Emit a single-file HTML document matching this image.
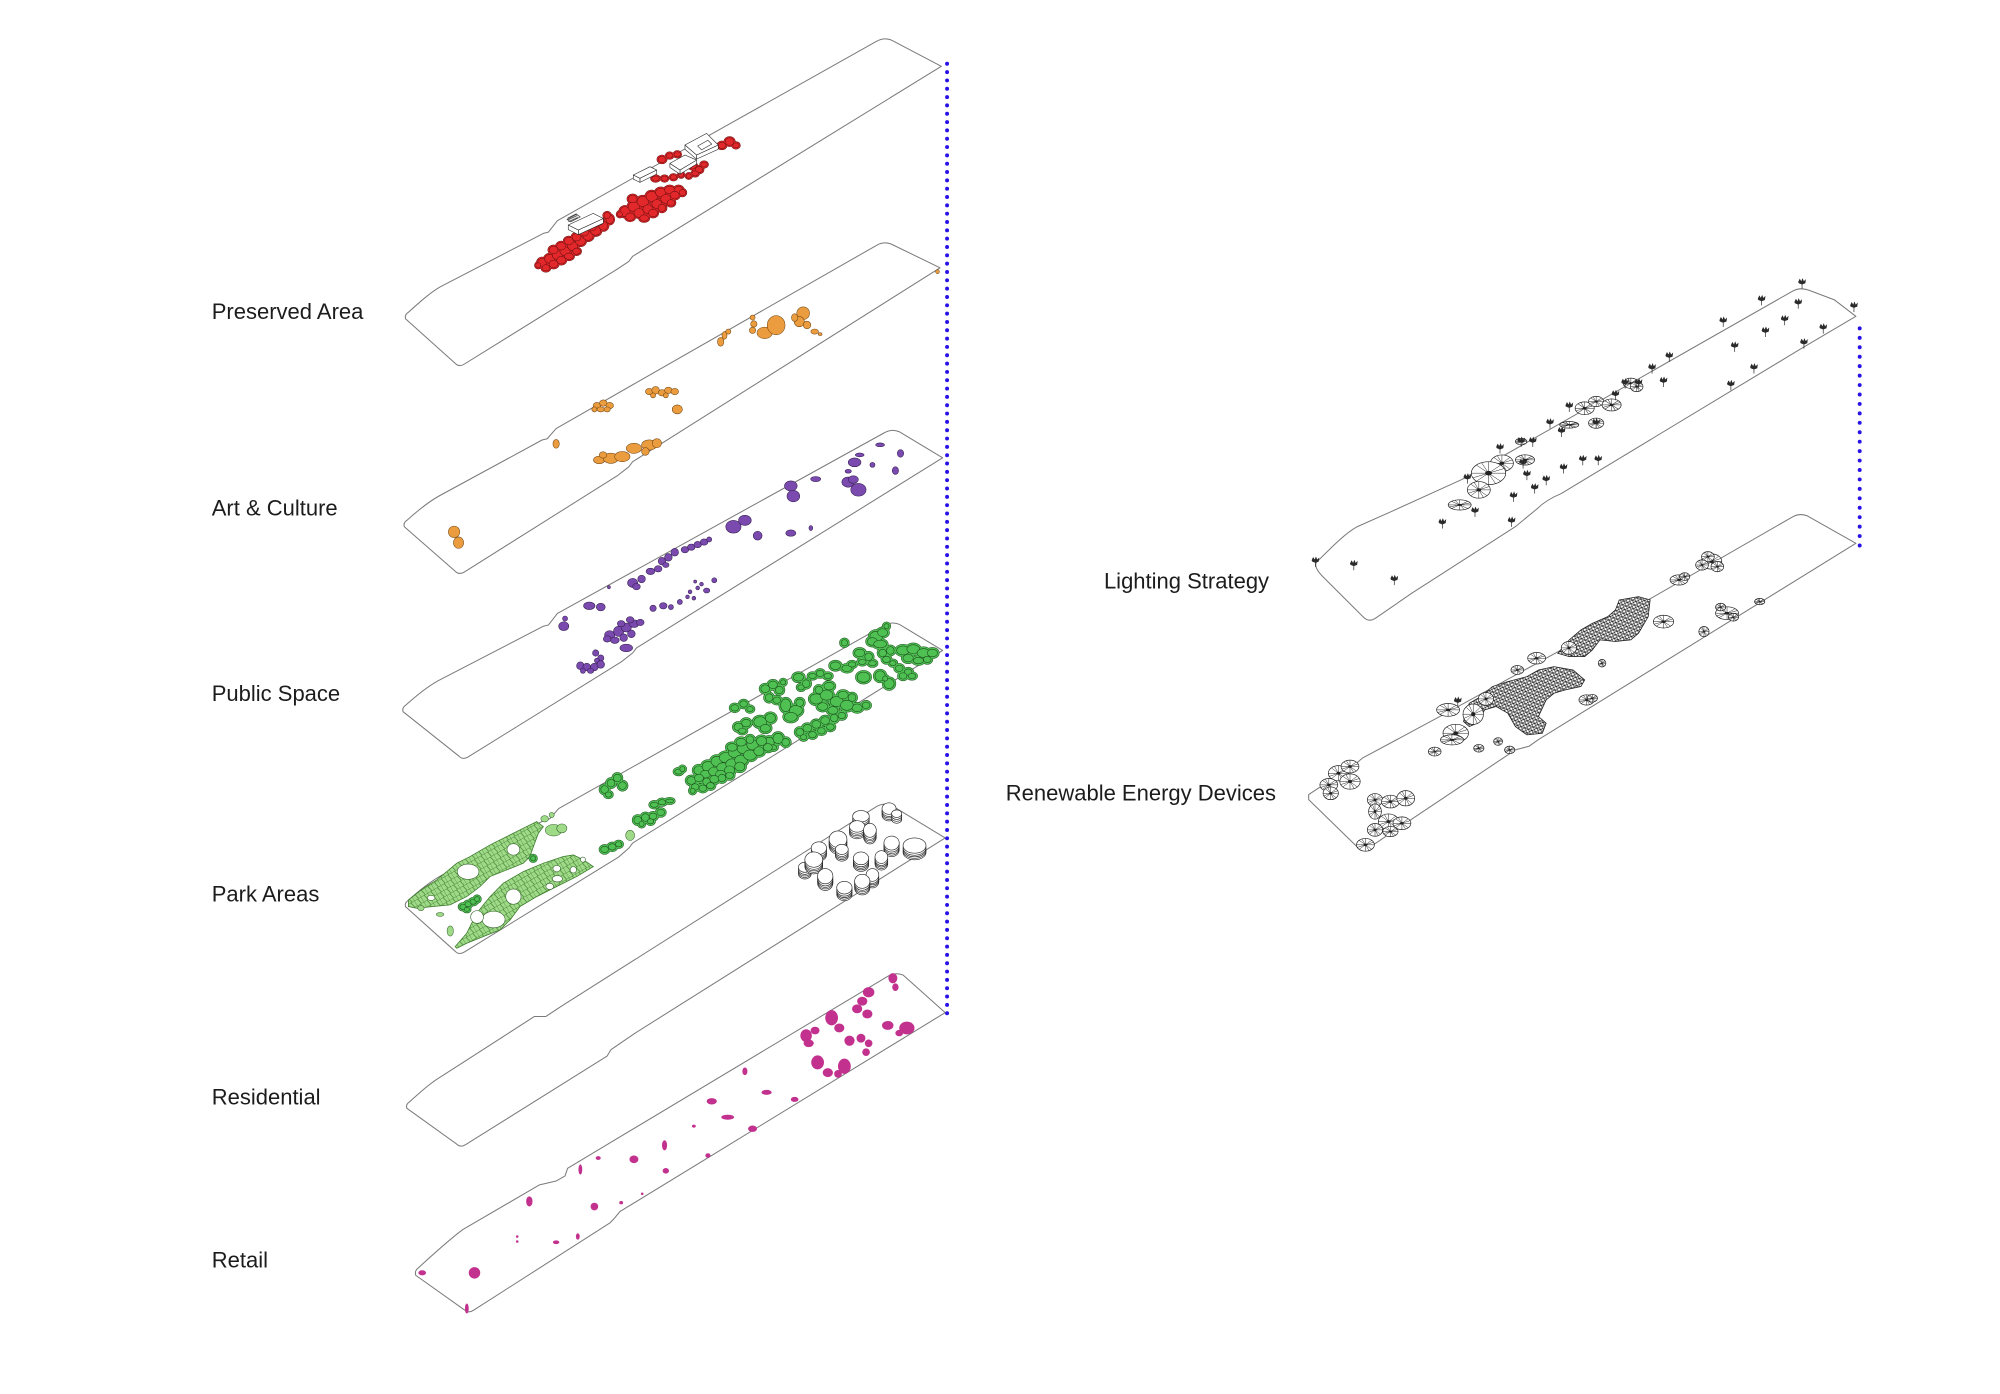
<!DOCTYPE html>
<html><head><meta charset="utf-8"><style>
html,body{margin:0;padding:0;background:#fff;width:2000px;height:1394px;overflow:hidden}
svg{display:block}
text{font-family:"Liberation Sans",Arial,sans-serif;font-size:17.25px;fill:#1c1c1c}
</style></head><body>
<svg width="2000" height="1394" viewBox="0 0 1568 1093" preserveAspectRatio="none" xmlns="http://www.w3.org/2000/svg">
<defs>
<g id="tree"><path d="M-3,-1 L-1.8,-3.6 L-0.6,-1.6 L0.4,-4 L1.4,-1.6 L3,-3.2 L2.6,0 L0,1 L-2.6,0 Z" fill="#2a2a2a"/><path d="M0,0 V4.2" stroke="#2a2a2a" stroke-width="0.55"/></g>
<g id="pad"><ellipse rx="10" ry="10" fill="#fff" stroke="#222" stroke-width="0.7" vector-effect="non-scaling-stroke"/><path d="M0,0L10,0M0,0L7,7M0,0L0,10M0,0L-7,7M0,0L-10,0M0,0L-7,-7M0,0L0,-10M0,0L7,-7M0,0L9,-4M0,0L-9,4M0,0L4,9M0,0L-4,-9" stroke="#222" stroke-width="0.5" vector-effect="non-scaling-stroke" fill="none"/><ellipse rx="2" ry="2" fill="#222"/></g>
<pattern id="mesh" patternUnits="userSpaceOnUse" width="3" height="3" patternTransform="rotate(20)"><rect width="3" height="3" fill="#fff"/><path d="M0,0L3,3M3,0L0,3M0,1.5H3" stroke="#111" stroke-width="0.42"/></pattern>
<pattern id="net" patternUnits="userSpaceOnUse" width="6" height="4.5" patternTransform="rotate(-30)"><path d="M0,0H6M0,0V4.5M3,0L4,4.5" stroke="#3b7a2b" stroke-width="0.5" fill="none"/></pattern>

<g id="rb">
<ellipse cx="425" cy="206" rx="3.5" ry="3.5"/><ellipse cx="431" cy="203" rx="4" ry="3.5"/><ellipse cx="437" cy="200" rx="4" ry="3.5"/><ellipse cx="443" cy="197" rx="4" ry="3.5"/><ellipse cx="449" cy="193" rx="4" ry="3.5"/><ellipse cx="455" cy="189" rx="4" ry="3.5"/><ellipse cx="461" cy="185" rx="4" ry="3.5"/><ellipse cx="467" cy="181" rx="4" ry="3.5"/><ellipse cx="473" cy="177" rx="3.5" ry="3.5"/><ellipse cx="478" cy="172" rx="3" ry="3.5"/>
<ellipse cx="434" cy="196" rx="3.5" ry="3"/><ellipse cx="440" cy="193" rx="3.5" ry="3"/><ellipse cx="446" cy="189" rx="3.5" ry="3"/><ellipse cx="452" cy="186" rx="3.5" ry="3"/><ellipse cx="458" cy="182" rx="3.5" ry="3"/><ellipse cx="464" cy="178" rx="3.5" ry="3"/><ellipse cx="470" cy="174" rx="3" ry="2.5"/><ellipse cx="476" cy="169" rx="2.5" ry="2.5"/>
<ellipse cx="428" cy="210" rx="3" ry="2.5"/><ellipse cx="434" cy="207" rx="3.5" ry="3"/><ellipse cx="440" cy="204" rx="3.5" ry="3"/><ellipse cx="446" cy="201" rx="3.5" ry="2.5"/><ellipse cx="452" cy="197" rx="3" ry="2.5"/><ellipse cx="422" cy="208" rx="2" ry="2"/>
<ellipse cx="490" cy="166" rx="4" ry="4"/><ellipse cx="497" cy="162" rx="4.5" ry="4"/><ellipse cx="504" cy="158" rx="4.5" ry="4"/><ellipse cx="511" cy="154" rx="4.5" ry="4"/><ellipse cx="518" cy="151" rx="4" ry="3.5"/><ellipse cx="525" cy="149" rx="4" ry="3"/><ellipse cx="532" cy="149" rx="3.5" ry="3"/><ellipse cx="496" cy="156" rx="3.5" ry="3"/>
<ellipse cx="494" cy="170" rx="3.5" ry="3"/><ellipse cx="501" cy="167" rx="4" ry="3.5"/><ellipse cx="508" cy="164" rx="4" ry="3.5"/><ellipse cx="515" cy="160" rx="4" ry="3.5"/><ellipse cx="522" cy="156" rx="4" ry="3.5"/><ellipse cx="529" cy="153" rx="3.5" ry="3"/><ellipse cx="535" cy="151" rx="2.5" ry="2.5"/><ellipse cx="486" cy="168" rx="2" ry="2"/>
<ellipse cx="505" cy="171" rx="3.5" ry="2.5"/><ellipse cx="512" cy="167" rx="3.5" ry="3"/><ellipse cx="519" cy="163" rx="3" ry="3"/><ellipse cx="526" cy="159" rx="3" ry="2.5"/>
<ellipse cx="519" cy="125" rx="3" ry="2.5"/><ellipse cx="525" cy="122" rx="2.5" ry="2"/><ellipse cx="531" cy="121" rx="2.5" ry="2"/><ellipse cx="543" cy="130" rx="3" ry="2.5"/><ellipse cx="548" cy="133" rx="3" ry="2.5"/><ellipse cx="552" cy="129" rx="2.5" ry="2"/><ellipse cx="514" cy="140" rx="3" ry="2"/><ellipse cx="521" cy="140" rx="2.5" ry="2"/><ellipse cx="528" cy="139" rx="2.5" ry="2"/><ellipse cx="534" cy="137" rx="2" ry="2"/><ellipse cx="545" cy="136" rx="2.5" ry="2"/><ellipse cx="566" cy="114" rx="3" ry="2.5"/><ellipse cx="572" cy="111" rx="3.5" ry="3"/><ellipse cx="577" cy="114" rx="2.5" ry="2"/><ellipse cx="540" cy="138" rx="2" ry="1.8"/>
</g>

<g id="gb">
<ellipse cx="363" cy="711" rx="2.5" ry="2"/><ellipse cx="367" cy="709" rx="2.5" ry="2"/><ellipse cx="371" cy="707" rx="2.5" ry="2"/><ellipse cx="374" cy="705" rx="2" ry="2"/><ellipse cx="366" cy="713" rx="2" ry="1.5"/><ellipse cx="418" cy="673" rx="2" ry="2"/>
<ellipse cx="687" cy="499" rx="5" ry="4"/><ellipse cx="692" cy="496" rx="4" ry="3"/><ellipse cx="684" cy="503" rx="4" ry="3"/><ellipse cx="695" cy="491" rx="2" ry="2"/><ellipse cx="690" cy="505" rx="5" ry="3"/>
<ellipse cx="708" cy="510" rx="5" ry="3.5"/><ellipse cx="716" cy="509" rx="5" ry="3.5"/><ellipse cx="724" cy="512" rx="5" ry="3.5"/><ellipse cx="731" cy="512" rx="4" ry="3"/><ellipse cx="712" cy="516" rx="4" ry="3"/><ellipse cx="720" cy="518" rx="4" ry="2.5"/><ellipse cx="727" cy="517" rx="3" ry="2.5"/>
<ellipse cx="692" cy="512" rx="3" ry="3"/><ellipse cx="698" cy="510" rx="3" ry="3"/><ellipse cx="695" cy="517" rx="3" ry="2.5"/><ellipse cx="700" cy="520" rx="2.5" ry="2"/>
<ellipse cx="674" cy="512" rx="4" ry="3"/><ellipse cx="681" cy="515" rx="3" ry="3"/><ellipse cx="676" cy="519" rx="3" ry="2"/><ellipse cx="684" cy="520" rx="3" ry="2"/>
<ellipse cx="655" cy="522" rx="4" ry="3"/><ellipse cx="664" cy="524" rx="4" ry="2.5"/><ellipse cx="668" cy="521" rx="3" ry="2"/><ellipse cx="662" cy="504" rx="2.5" ry="2.5"/>
<ellipse cx="677" cy="531" rx="5" ry="4"/><ellipse cx="690" cy="530" rx="4" ry="4"/><ellipse cx="697" cy="536" rx="4" ry="4"/><ellipse cx="694" cy="532" rx="2" ry="2"/>
<ellipse cx="705" cy="524" rx="3" ry="2.5"/><ellipse cx="712" cy="527" rx="3" ry="2.5"/><ellipse cx="708" cy="530" rx="3" ry="2.5"/><ellipse cx="715" cy="530" rx="3" ry="2"/>
<ellipse cx="626" cy="531" rx="4" ry="3"/><ellipse cx="632" cy="536" rx="3" ry="3"/><ellipse cx="628" cy="539" rx="2.5" ry="2"/>
<ellipse cx="637" cy="530" rx="3" ry="2"/><ellipse cx="643" cy="528" rx="3" ry="2.5"/><ellipse cx="649" cy="530" rx="3" ry="2"/>
<ellipse cx="640" cy="548" rx="5" ry="4"/><ellipse cx="648" cy="545" rx="5" ry="4"/><ellipse cx="656" cy="550" rx="5" ry="4"/><ellipse cx="664" cy="553" rx="5" ry="4"/><ellipse cx="672" cy="555" rx="4" ry="3"/><ellipse cx="645" cy="554" rx="4" ry="3"/><ellipse cx="653" cy="557" rx="4" ry="3"/><ellipse cx="661" cy="545" rx="4" ry="3"/><ellipse cx="650" cy="538" rx="4" ry="3"/><ellipse cx="642" cy="541" rx="3" ry="3"/><ellipse cx="679" cy="553" rx="3" ry="2.5"/><ellipse cx="668" cy="547" rx="3" ry="3"/>
<ellipse cx="600" cy="540" rx="3.5" ry="3"/><ellipse cx="606" cy="537" rx="3.5" ry="3"/><ellipse cx="611" cy="541" rx="3" ry="3"/><ellipse cx="603" cy="547" rx="3" ry="3"/><ellipse cx="609" cy="549" rx="3" ry="2.5"/><ellipse cx="614" cy="535" rx="2" ry="2"/>
<ellipse cx="616" cy="553" rx="4" ry="5"/><ellipse cx="624" cy="557" rx="5" ry="4"/><ellipse cx="620" cy="562" rx="5" ry="3.5"/><ellipse cx="627" cy="551" rx="3" ry="3"/>
<ellipse cx="596" cy="566" rx="5" ry="4"/><ellipse cx="604" cy="563" rx="4" ry="3.5"/><ellipse cx="600" cy="571" rx="4" ry="3"/>
<ellipse cx="576" cy="555" rx="3" ry="2.5"/><ellipse cx="583" cy="552" rx="3" ry="2.5"/><ellipse cx="588" cy="556" rx="2.5" ry="2"/>
<ellipse cx="579" cy="570" rx="3.5" ry="3"/><ellipse cx="585" cy="567" rx="3.5" ry="3"/><ellipse cx="582" cy="573" rx="3" ry="2"/>
<ellipse cx="627" cy="574" rx="3" ry="3"/><ellipse cx="633" cy="571" rx="3.5" ry="3"/><ellipse cx="640" cy="568" rx="3.5" ry="3"/><ellipse cx="647" cy="565" rx="3.5" ry="3"/><ellipse cx="654" cy="563" rx="3" ry="3"/><ellipse cx="660" cy="561" rx="3" ry="2.5"/><ellipse cx="630" cy="578" rx="2.5" ry="2"/><ellipse cx="637" cy="576" rx="3" ry="2.5"/><ellipse cx="644" cy="573" rx="3" ry="2.5"/><ellipse cx="651" cy="570" rx="3" ry="2.5"/>
<ellipse cx="603" cy="582" rx="4" ry="4"/><ellipse cx="610" cy="579" rx="4" ry="4"/><ellipse cx="616" cy="582" rx="3" ry="3"/><ellipse cx="606" cy="586" rx="3" ry="2"/>
<ellipse cx="548" cy="604" rx="4" ry="3.5"/><ellipse cx="555" cy="601" rx="4.5" ry="4"/><ellipse cx="562" cy="597" rx="4.5" ry="4"/><ellipse cx="569" cy="594" rx="5" ry="4"/><ellipse cx="576" cy="590" rx="5" ry="4"/><ellipse cx="583" cy="587" rx="5" ry="4"/><ellipse cx="590" cy="584" rx="4.5" ry="4"/><ellipse cx="597" cy="581" rx="4" ry="3.5"/>
<ellipse cx="553" cy="607" rx="4" ry="3"/><ellipse cx="560" cy="605" rx="4.5" ry="3.5"/><ellipse cx="567" cy="602" rx="5" ry="4"/><ellipse cx="574" cy="599" rx="5" ry="4"/><ellipse cx="581" cy="596" rx="5" ry="4"/><ellipse cx="588" cy="592" rx="5" ry="4"/><ellipse cx="595" cy="589" rx="4" ry="3.5"/><ellipse cx="602" cy="586" rx="3.5" ry="3"/>
<ellipse cx="574" cy="586" rx="4" ry="3"/><ellipse cx="581" cy="582" rx="4" ry="3"/><ellipse cx="588" cy="580" rx="3" ry="3"/>
<ellipse cx="565" cy="607" rx="4" ry="3"/><ellipse cx="572" cy="604" rx="4" ry="3.5"/><ellipse cx="580" cy="601" rx="4" ry="3.5"/>
<ellipse cx="542" cy="612" rx="3.5" ry="3"/><ellipse cx="548" cy="610" rx="3.5" ry="3"/><ellipse cx="554" cy="613" rx="3" ry="3"/><ellipse cx="560" cy="611" rx="3.5" ry="3"/><ellipse cx="566" cy="610" rx="3" ry="3"/><ellipse cx="572" cy="608" rx="3" ry="2.5"/><ellipse cx="545" cy="617" rx="3" ry="2.5"/><ellipse cx="551" cy="618" rx="3" ry="2.5"/><ellipse cx="557" cy="616" rx="3" ry="2.5"/><ellipse cx="543" cy="620" rx="2" ry="2"/>
<ellipse cx="532" cy="605" rx="3" ry="2"/><ellipse cx="535" cy="603" rx="2" ry="2"/>
<ellipse cx="513" cy="631" rx="3" ry="2"/><ellipse cx="519" cy="629" rx="3" ry="2"/><ellipse cx="525" cy="628" rx="3" ry="1.5"/>
<ellipse cx="500" cy="643" rx="3" ry="3"/><ellipse cx="506" cy="641" rx="3" ry="3"/><ellipse cx="512" cy="640" rx="3" ry="2.5"/><ellipse cx="518" cy="637" rx="3" ry="2.5"/><ellipse cx="503" cy="646" rx="2" ry="2"/><ellipse cx="510" cy="644" rx="2.5" ry="2"/>
<ellipse cx="474" cy="619" rx="3" ry="3"/><ellipse cx="479" cy="614" rx="3" ry="3"/><ellipse cx="484" cy="610" rx="3" ry="3"/><ellipse cx="488" cy="616" rx="3" ry="3"/><ellipse cx="477" cy="623" rx="2.5" ry="2"/>
<ellipse cx="474" cy="666" rx="3" ry="2.5"/><ellipse cx="480" cy="664" rx="3" ry="2.5"/><ellipse cx="485" cy="662" rx="2.5" ry="2"/>
</g>
</defs>

<!-- labels -->
<text x="166" y="250.3">Preserved Area</text>
<text x="166" y="404.3">Art &amp; Culture</text>
<text x="166" y="549.5">Public Space</text>
<text x="166" y="707">Park Areas</text>
<text x="166" y="866">Residential</text>
<text x="166" y="994">Retail</text>
<text x="865.5" y="461.3">Lighting Strategy</text>
<text x="788.5" y="627.5">Renewable Energy Devices</text>

<!-- slab outlines -->
<g fill="none" stroke="#7a7a7a" stroke-width="0.8" stroke-linejoin="round">
<path d="M320,245 C330,236 338,229 345,225 L426,183 L430,182 L437,173 L687,32.5 Q693,29 699,31.5 L738,52 L496,201 L493,205 L484,211 L364,285.5 Q360,288 357,285 L318,250 Q317,247 320,245 Z"/>
<path d="M319,408 C329,399 337,393 344,389 L425,345 L429,344 L436,336 L687,192.5 Q693,189 699,191.5 L737,210 L496,362 L493,366 L484,373 L364,448.5 Q360,451 357,448 L317,413 Q316,410 319,408 Z"/>
<path d="M318,553 C328,544 336,538 343,534 L426,491 L430,490 L437,481 L693,339.5 Q699,336 705,338.5 L739,359 L499,508 L496,512 L487,519 L367,593.5 Q363,596 360,593 L316,558 Q315,555 318,553 Z"/>
<path d="M320,706 C330,697 338,691 345,687 L427,643 L431,642 L438,634 L693,490.5 Q699,487 705,489.5 L739,510 L496,661 L493,665 L485,672 L364,746.5 Q360,749 357,746 L318,711 Q317,708 320,706 Z"/>
<path d="M321,864 C331,855 339,848 346,844 L419,797 L428,797 L440,789 L687,632.5 Q693,629 699,631.5 L741,657 L498,810 L479,823 L476,828 L365,897.5 Q361,900 358,897 L319,869 Q318,866 321,864 Z"/>
<path d="M327,995 C338,985 352,972 363,964 L423,929 L436,926 L443,922 L445,916 L696,765.5 Q702,762 708,764.5 L741,794 L486,950 L481,956 L478,959 L371,1027.5 Q367,1030 364,1027 L326,1000 Q325,997 327,995 Z"/>
<path d="M1032,441 C1045,428 1055,418 1064,413 L1091,401 L1146,376 L1405,228.5 Q1411,225 1418,227.5 L1438,235 L1455,248 L1411,274 L1224,387 Q1212,392 1205,399 L1188,413 L1107,465 L1078,485 Q1073,488 1069,484 L1037,452 Q1030,445 1032,441 Z"/>
<path d="M1026,623 L1064,598 L1068,594.5 L1134,559 L1224,509.6 L1405,405.5 Q1411,402 1417,404.5 L1455,426 L1206,580 L1199,585 L1188,588 L1072,665.5 Q1067,668 1064,664 L1026,627 Z"/>
</g>

<!-- dotted connectors -->
<line x1="742.5" y1="50" x2="742.5" y2="795" stroke="#2812e6" stroke-width="3.1" stroke-linecap="round" stroke-dasharray="0 6.53"/>
<line x1="1458" y1="257.5" x2="1458" y2="428" stroke="#2812e6" stroke-width="3.1" stroke-linecap="round" stroke-dasharray="0 7.4"/>

<!-- RED : preserved -->
<use href="#rb" fill="#e3282b" stroke="#6b1010" stroke-width="2.4"/>
<use href="#rb" fill="#e3282b" stroke="#e3282b" stroke-width="1.6"/>
<use href="#rb" fill="#e3282b" stroke="#6b1010" stroke-width="0.4"/>
<!-- buildings -->
<g fill="#fff" stroke="#222" stroke-width="0.45" stroke-linejoin="round">
<polygon points="453.4,180.3 473,171.3 473,175 453.4,184"/><polygon points="445.5,176.4 453.4,180.3 453.4,184 445.5,180"/><polygon points="445.5,176.4 465.1,167.3 473,171.3 453.4,180.3"/>
<polygon points="444.5,172 452,168 455,170 447.5,174" fill="#ddd"/>
<path d="M445,171 L452,167.5 M445,172.5 L452.5,169 M445.5,174 L453,170.5" fill="none"/>
<polygon points="501.7,139.8 514.8,133.3 514.8,136.5 501.7,143"/><polygon points="496.5,137.2 501.7,139.8 501.7,143 496.5,140.4"/><polygon points="496.5,137.2 509.6,130.7 514.8,133.3 501.7,139.8"/>
<polygon points="533.1,133.3 546.1,125.5 546.1,128.7 533.1,136.5"/><polygon points="525.2,128.1 533.1,133.3 533.1,136.5 525.2,131.3"/><polygon points="525.2,128.1 537,121.5 546.1,125.5 533.1,133.3"/>
<polygon points="546.1,121.5 563.1,113.7 563.1,117 546.1,124.8"/><polygon points="537,113.7 546.1,121.5 546.1,124.8 537,117"/><polygon points="537,113.7 554,104.6 563.1,113.7 546.1,121.5"/>
<polygon points="547,114.5 555,110 558,113 550,117.5"/>
</g>

<!-- ORANGE : art & culture -->
<g fill="#eb9c3e" stroke="#6a4010" stroke-width="0.4">
<ellipse cx="565" cy="268" rx="2.5" ry="3.5"/><ellipse cx="568" cy="263" rx="2" ry="3"/><ellipse cx="571" cy="260" rx="2" ry="2"/>
<ellipse cx="590" cy="249" rx="2" ry="2"/><ellipse cx="591" cy="254" rx="2.5" ry="2.5"/><ellipse cx="590" cy="259" rx="2.5" ry="2.5"/>
<ellipse cx="599.5" cy="261" rx="6" ry="4.5"/><ellipse cx="608.5" cy="255" rx="7" ry="7.5"/>
<ellipse cx="629.7" cy="245.6" rx="5" ry="5"/><ellipse cx="626.6" cy="252.2" rx="4" ry="4"/><ellipse cx="632.7" cy="254.8" rx="3" ry="3"/><ellipse cx="623" cy="249" rx="2.5" ry="3"/>
<ellipse cx="638.7" cy="260" rx="3" ry="2"/><ellipse cx="643" cy="262" rx="1.5" ry="1.2"/><ellipse cx="735" cy="213" rx="1.5" ry="1.5"/>
<ellipse cx="509" cy="307" rx="3" ry="2.5"/><ellipse cx="514" cy="306" rx="3" ry="3"/><ellipse cx="519" cy="308" rx="3" ry="2.5"/><ellipse cx="524" cy="306" rx="3" ry="2.5"/><ellipse cx="529" cy="307" rx="3" ry="2.5"/><ellipse cx="512" cy="310" rx="2" ry="2"/><ellipse cx="522" cy="310" rx="2" ry="2"/>
<ellipse cx="468" cy="318" rx="3" ry="2.5"/><ellipse cx="473" cy="316" rx="3" ry="2.5"/><ellipse cx="478" cy="318" rx="3" ry="2.5"/><ellipse cx="471" cy="321" rx="3" ry="2"/><ellipse cx="476" cy="321" rx="2.5" ry="2"/><ellipse cx="466" cy="321" rx="2" ry="2"/>
<ellipse cx="531" cy="321" rx="4" ry="3.5"/><ellipse cx="436" cy="348" rx="2.5" ry="3.5"/>
<ellipse cx="469.8" cy="360.6" rx="4.5" ry="3"/><ellipse cx="478.9" cy="359.3" rx="6" ry="4"/><ellipse cx="487.9" cy="358" rx="6" ry="4"/><ellipse cx="497" cy="351.5" rx="6" ry="4"/><ellipse cx="509" cy="348.9" rx="6" ry="4"/><ellipse cx="515" cy="347.5" rx="3.6" ry="3.6"/><ellipse cx="506" cy="354" rx="3" ry="3"/><ellipse cx="472.8" cy="356.7" rx="3" ry="2.5"/>
<ellipse cx="356" cy="417" rx="4.5" ry="4.5"/><ellipse cx="359.5" cy="425.5" rx="4" ry="4.5"/>
</g>

<!-- PURPLE : public space -->
<g fill="#7a4aae" stroke="#2e1a4a" stroke-width="0.4">
<ellipse cx="690" cy="348.8" rx="3.5" ry="1.5"/><ellipse cx="674" cy="356.7" rx="3.5" ry="1.5"/><ellipse cx="670" cy="362.5" rx="5" ry="3.5"/><ellipse cx="706" cy="355.5" rx="2.5" ry="3"/><ellipse cx="684" cy="364.5" rx="2" ry="2"/><ellipse cx="702" cy="369" rx="2.5" ry="3"/><ellipse cx="665" cy="369.5" rx="2.5" ry="1.5"/>
<ellipse cx="665" cy="378" rx="5" ry="4"/><ellipse cx="673" cy="384" rx="6" ry="5"/><ellipse cx="669" cy="376" rx="4" ry="3"/>
<ellipse cx="639.5" cy="375.6" rx="4" ry="2"/><ellipse cx="620" cy="381" rx="5" ry="4"/><ellipse cx="622" cy="389" rx="5" ry="4.5"/>
<ellipse cx="575" cy="413" rx="6" ry="5"/><ellipse cx="584" cy="408" rx="5" ry="4"/><ellipse cx="594" cy="420" rx="3.5" ry="3.5"/><ellipse cx="620" cy="418" rx="4" ry="2.5"/><ellipse cx="635.7" cy="414" rx="1.5" ry="2"/>
<ellipse cx="537" cy="431" rx="3" ry="2.5"/><ellipse cx="542" cy="429" rx="3" ry="2.5"/><ellipse cx="547" cy="427" rx="3" ry="2.5"/><ellipse cx="552" cy="425" rx="3" ry="2.5"/><ellipse cx="556" cy="423" rx="2" ry="2"/>
<ellipse cx="519" cy="440" rx="3" ry="3"/><ellipse cx="524" cy="437" rx="3" ry="3"/><ellipse cx="529" cy="433" rx="3" ry="3"/><ellipse cx="522" cy="443" rx="2.5" ry="2"/>
<ellipse cx="510" cy="448" rx="3.5" ry="2.5"/><ellipse cx="516" cy="446" rx="3" ry="2.5"/>
<ellipse cx="496" cy="457" rx="4" ry="3.5"/><ellipse cx="503" cy="454" rx="3" ry="3"/><ellipse cx="499" cy="460" rx="3" ry="2.5"/><ellipse cx="477.4" cy="460.4" rx="1.2" ry="1.2"/>
<ellipse cx="541" cy="464" rx="1.5" ry="1.5"/><ellipse cx="547" cy="461" rx="1.5" ry="1.5"/><ellipse cx="550" cy="458" rx="1.5" ry="1.5"/><ellipse cx="545" cy="456" rx="1.2" ry="1.2"/><ellipse cx="560" cy="455" rx="2" ry="2"/><ellipse cx="554" cy="463" rx="2.5" ry="2"/>
<ellipse cx="512" cy="477" rx="2.5" ry="2.5"/><ellipse cx="520" cy="475" rx="3" ry="2.5"/><ellipse cx="526" cy="476" rx="2" ry="2"/><ellipse cx="533" cy="472" rx="2" ry="2"/><ellipse cx="539" cy="468" rx="1.5" ry="1.5"/><ellipse cx="544" cy="469" rx="1.5" ry="1.5"/>
<ellipse cx="462" cy="475" rx="4.5" ry="3"/><ellipse cx="471" cy="476" rx="3.5" ry="3"/>
<ellipse cx="442" cy="491" rx="4" ry="3.5"/><ellipse cx="443" cy="485" rx="2" ry="2"/>
<ellipse cx="478" cy="498" rx="4" ry="3.5"/><ellipse cx="485" cy="495" rx="4" ry="4"/><ellipse cx="491" cy="492" rx="4" ry="3.5"/><ellipse cx="497" cy="489" rx="4" ry="3"/><ellipse cx="482" cy="502" rx="3.5" ry="2.5"/><ellipse cx="489" cy="500" rx="3" ry="3"/><ellipse cx="495" cy="497" rx="3" ry="3"/><ellipse cx="502" cy="488" rx="3" ry="2.5"/><ellipse cx="476" cy="501" rx="3" ry="2.5"/><ellipse cx="487" cy="489" rx="3" ry="2.5"/><ellipse cx="494" cy="486" rx="3" ry="2.5"/>
<ellipse cx="491" cy="508" rx="5" ry="3"/>
<ellipse cx="467" cy="512" rx="2.5" ry="2.5"/><ellipse cx="471" cy="516" rx="2.5" ry="2.5"/><ellipse cx="468" cy="518" rx="2" ry="2"/>
<ellipse cx="455" cy="522" rx="3" ry="3"/><ellipse cx="460" cy="523" rx="3" ry="3"/><ellipse cx="466" cy="523" rx="3" ry="3"/><ellipse cx="471" cy="521" rx="3" ry="3"/><ellipse cx="463" cy="526" rx="2.5" ry="2"/><ellipse cx="457" cy="526" rx="2" ry="2"/>
</g>

<!-- LIGHT GREEN network : park -->
<polygon points="320.2,705.6 331.9,696.4 342.4,689.9 358.1,676.8 368.5,671.6 384.2,662.5 399.9,654.6 412.9,648.1 420.8,644.2 426,648.1 422.1,653.3 418.2,663.8 415.5,671.6 410.3,676.8 397.3,682.1 384.2,687.3 376.4,695.1 365.9,703 352.8,709.5 339.8,710.8 326.7,712.1 320.2,710.8" fill="#9fda88"/>
<polygon points="320.2,705.6 331.9,696.4 342.4,689.9 358.1,676.8 368.5,671.6 384.2,662.5 399.9,654.6 412.9,648.1 420.8,644.2 426,648.1 422.1,653.3 418.2,663.8 415.5,671.6 410.3,676.8 397.3,682.1 384.2,687.3 376.4,695.1 365.9,703 352.8,709.5 339.8,710.8 326.7,712.1 320.2,710.8" fill="url(#net)" stroke="#3b7a2b" stroke-width="0.6"/>
<polygon points="356.8,742.2 365.9,731.7 373.7,716 384.2,703 394.6,692.5 410.3,683.4 426,676.8 441.7,671.6 449.5,670.3 457.4,674.2 465.2,679.5 452.1,687.3 436.5,695.1 420.8,703 407.7,710.8 399.9,721.3 392,729.1 379,734.3 365.9,739.6 358.1,743.5" fill="#9fda88"/>
<polygon points="356.8,742.2 365.9,731.7 373.7,716 384.2,703 394.6,692.5 410.3,683.4 426,676.8 441.7,671.6 449.5,670.3 457.4,674.2 465.2,679.5 452.1,687.3 436.5,695.1 420.8,703 407.7,710.8 399.9,721.3 392,729.1 379,734.3 365.9,739.6 358.1,743.5" fill="url(#net)" stroke="#3b7a2b" stroke-width="0.6"/>
<g fill="#fff" stroke="#2f5f25" stroke-width="0.45">
<ellipse cx="367" cy="683.5" rx="8.5" ry="6"/><ellipse cx="402.5" cy="666" rx="5" ry="4.5"/><ellipse cx="338" cy="704" rx="3" ry="2"/>
<ellipse cx="402.5" cy="703" rx="6" ry="6"/><ellipse cx="387" cy="721" rx="9" ry="6.5"/><ellipse cx="374" cy="719" rx="5" ry="5"/><ellipse cx="436.5" cy="681" rx="3" ry="2.5"/><ellipse cx="449.5" cy="682" rx="2.5" ry="2.5"/><ellipse cx="431" cy="695" rx="3" ry="2.5"/><ellipse cx="437" cy="689" rx="4" ry="2.5"/><ellipse cx="457" cy="674" rx="2" ry="2"/>
</g>
<g fill="#9fda88" stroke="#2f5f25" stroke-width="0.4">
<ellipse cx="434" cy="651" rx="6.5" ry="4.5"/><ellipse cx="440.5" cy="649.5" rx="4" ry="3.5"/><ellipse cx="427" cy="642" rx="3" ry="2.5"/><ellipse cx="432.5" cy="639" rx="2" ry="2"/><ellipse cx="353" cy="730" rx="2.5" ry="4"/><ellipse cx="345" cy="717" rx="3" ry="1.5"/><ellipse cx="494" cy="655" rx="3.5" ry="4"/><ellipse cx="330" cy="712" rx="2.5" ry="2"/>
</g>

<!-- GREEN : park -->
<use href="#gb" fill="#4ec152" stroke="#1d4d1d" stroke-width="3.2"/>
<use href="#gb" fill="#4ec152" stroke="#4ec152" stroke-width="2.4"/>
<use href="#gb" fill="#4ec152" stroke="#1d4d1d" stroke-width="0.45"/>

<!-- RESIDENTIAL stacks -->
<g fill="#fff" stroke="#222" stroke-width="0.5">
<ellipse cx="697" cy="639.2" rx="5.5" ry="4.5"/><ellipse cx="697" cy="638" rx="5.5" ry="4.5"/><ellipse cx="697" cy="636.8" rx="5.5" ry="4.5"/><ellipse cx="697" cy="635.6" rx="5.5" ry="4.5"/><ellipse cx="697" cy="634" rx="5.5" ry="4.5"/>
<ellipse cx="703" cy="642.5" rx="4" ry="3"/><ellipse cx="703" cy="641" rx="4" ry="3"/><ellipse cx="703" cy="639.5" rx="4" ry="3"/><ellipse cx="703" cy="638" rx="4" ry="3"/>
<ellipse cx="675" cy="645.2" rx="6.5" ry="4.5"/><ellipse cx="675" cy="644" rx="6.5" ry="4.5"/><ellipse cx="675" cy="642.8" rx="6.5" ry="4.5"/><ellipse cx="675" cy="641.6" rx="6.5" ry="4.5"/><ellipse cx="675" cy="640" rx="6.5" ry="4.5"/>
<ellipse cx="672" cy="653.2" rx="6" ry="4.5"/><ellipse cx="672" cy="652" rx="6" ry="4.5"/><ellipse cx="672" cy="650.8" rx="6" ry="4.5"/><ellipse cx="672" cy="649.6" rx="6" ry="4.5"/><ellipse cx="672" cy="648" rx="6" ry="4.5"/>
<ellipse cx="682" cy="656.2" rx="5" ry="5.5"/><ellipse cx="682" cy="655" rx="5" ry="5.5"/><ellipse cx="682" cy="653.8" rx="5" ry="5.5"/><ellipse cx="682" cy="652.6" rx="5" ry="5.5"/><ellipse cx="682" cy="651" rx="5" ry="5.5"/>
<ellipse cx="657" cy="663.2" rx="7" ry="6.5"/><ellipse cx="657" cy="662" rx="7" ry="6.5"/><ellipse cx="657" cy="660.8" rx="7" ry="6.5"/><ellipse cx="657" cy="659.6" rx="7" ry="6.5"/><ellipse cx="657" cy="658" rx="7" ry="6.5"/>
<ellipse cx="642" cy="670.2" rx="6" ry="5"/><ellipse cx="642" cy="669" rx="6" ry="5"/><ellipse cx="642" cy="667.8" rx="6" ry="5"/><ellipse cx="642" cy="666.6" rx="6" ry="5"/><ellipse cx="642" cy="665" rx="6" ry="5"/>
<ellipse cx="660" cy="671.2" rx="5" ry="4"/><ellipse cx="660" cy="670" rx="5" ry="4"/><ellipse cx="660" cy="668.8" rx="5" ry="4"/><ellipse cx="660" cy="667.6" rx="5" ry="4"/><ellipse cx="660" cy="666" rx="5" ry="4"/>
<ellipse cx="631" cy="685.2" rx="5" ry="4"/><ellipse cx="631" cy="684" rx="5" ry="4"/><ellipse cx="631" cy="682.8" rx="5" ry="4"/><ellipse cx="631" cy="681.6" rx="5" ry="4"/><ellipse cx="631" cy="680" rx="5" ry="4"/>
<ellipse cx="638" cy="679.2" rx="7" ry="6"/><ellipse cx="638" cy="678" rx="7" ry="6"/><ellipse cx="638" cy="676.8" rx="7" ry="6"/><ellipse cx="638" cy="675.6" rx="7" ry="6"/><ellipse cx="638" cy="674" rx="7" ry="6"/>
<ellipse cx="699" cy="666.2" rx="6" ry="5.5"/><ellipse cx="699" cy="665" rx="6" ry="5.5"/><ellipse cx="699" cy="663.8" rx="6" ry="5.5"/><ellipse cx="699" cy="662.6" rx="6" ry="5.5"/><ellipse cx="699" cy="661" rx="6" ry="5.5"/>
<ellipse cx="717" cy="668.2" rx="9" ry="6"/><ellipse cx="717" cy="667" rx="9" ry="6"/><ellipse cx="717" cy="665.8" rx="9" ry="6"/><ellipse cx="717" cy="664.6" rx="9" ry="6"/><ellipse cx="717" cy="663" rx="9" ry="6"/>
<ellipse cx="675" cy="678.2" rx="6" ry="5"/><ellipse cx="675" cy="677" rx="6" ry="5"/><ellipse cx="675" cy="675.8" rx="6" ry="5"/><ellipse cx="675" cy="674.6" rx="6" ry="5"/><ellipse cx="675" cy="673" rx="6" ry="5"/>
<ellipse cx="691" cy="677.2" rx="5" ry="5"/><ellipse cx="691" cy="676" rx="5" ry="5"/><ellipse cx="691" cy="674.8" rx="5" ry="5"/><ellipse cx="691" cy="673.6" rx="5" ry="5"/><ellipse cx="691" cy="672" rx="5" ry="5"/>
<ellipse cx="684" cy="691.2" rx="5" ry="5"/><ellipse cx="684" cy="690" rx="5" ry="5"/><ellipse cx="684" cy="688.8" rx="5" ry="5"/><ellipse cx="684" cy="687.6" rx="5" ry="5"/><ellipse cx="684" cy="686" rx="5" ry="5"/>
<ellipse cx="676" cy="696.2" rx="6" ry="5.5"/><ellipse cx="676" cy="695" rx="6" ry="5.5"/><ellipse cx="676" cy="693.8" rx="6" ry="5.5"/><ellipse cx="676" cy="692.6" rx="6" ry="5.5"/><ellipse cx="676" cy="691" rx="6" ry="5.5"/>
<ellipse cx="647" cy="692.2" rx="6" ry="6"/><ellipse cx="647" cy="691" rx="6" ry="6"/><ellipse cx="647" cy="689.8" rx="6" ry="6"/><ellipse cx="647" cy="688.6" rx="6" ry="6"/><ellipse cx="647" cy="687" rx="6" ry="6"/>
<ellipse cx="662" cy="701.2" rx="6" ry="5"/><ellipse cx="662" cy="700" rx="6" ry="5"/><ellipse cx="662" cy="698.8" rx="6" ry="5"/><ellipse cx="662" cy="697.6" rx="6" ry="5"/><ellipse cx="662" cy="696" rx="6" ry="5"/>
</g>

<!-- MAGENTA : retail -->
<g fill="#c2318d">
<ellipse cx="700" cy="767" rx="3.5" ry="4"/><ellipse cx="702" cy="774" rx="2.5" ry="3"/>
<ellipse cx="681" cy="778" rx="4.5" ry="4"/><ellipse cx="676" cy="785" rx="4" ry="3.5"/>
<ellipse cx="672" cy="791" rx="4" ry="3.5"/><ellipse cx="680" cy="795" rx="4" ry="3.5"/>
<ellipse cx="652" cy="798" rx="5" ry="6"/><ellipse cx="658" cy="806" rx="4" ry="3.5"/>
<ellipse cx="632" cy="812" rx="4.5" ry="5"/><ellipse cx="639" cy="808" rx="3.5" ry="3"/><ellipse cx="634" cy="818" rx="4" ry="3"/>
<ellipse cx="666" cy="816" rx="4" ry="4"/><ellipse cx="675" cy="814" rx="3.5" ry="3.5"/><ellipse cx="681" cy="818" rx="3" ry="3"/>
<ellipse cx="696" cy="804" rx="4.5" ry="3.5"/><ellipse cx="711" cy="806" rx="6" ry="5"/><ellipse cx="705" cy="810" rx="3" ry="2.5"/>
<ellipse cx="679" cy="825" rx="3" ry="3"/>
<ellipse cx="641" cy="833" rx="5" ry="5.5"/><ellipse cx="649" cy="841" rx="4" ry="3.5"/><ellipse cx="662" cy="836" rx="5" ry="6"/><ellipse cx="657" cy="842" rx="3" ry="3"/>
<ellipse cx="584" cy="840" rx="2" ry="3"/><ellipse cx="601" cy="856.5" rx="4" ry="2"/><ellipse cx="558" cy="863.5" rx="4" ry="2.5"/><ellipse cx="623" cy="862" rx="3" ry="2"/>
<ellipse cx="570.5" cy="876" rx="5" ry="2"/><ellipse cx="590" cy="885" rx="3.5" ry="2.5"/><ellipse cx="544" cy="883" rx="1.5" ry="1.2"/>
<ellipse cx="521" cy="898" rx="2" ry="4"/><ellipse cx="555" cy="906" rx="2" ry="1.8"/><ellipse cx="497" cy="909" rx="3.5" ry="3"/><ellipse cx="522" cy="918" rx="2.5" ry="2.2"/>
<ellipse cx="469" cy="908" rx="2" ry="1.5"/><ellipse cx="455" cy="917" rx="1.5" ry="4"/><ellipse cx="503.5" cy="936" rx="1" ry="1"/>
<ellipse cx="415" cy="942" rx="2.5" ry="4"/><ellipse cx="466" cy="946" rx="3" ry="3"/><ellipse cx="487" cy="943" rx="1.5" ry="1.3"/>
<ellipse cx="405.5" cy="969.5" rx="1" ry="1"/><ellipse cx="405.5" cy="973.4" rx="1" ry="1"/><ellipse cx="436" cy="974" rx="2.5" ry="1.5"/><ellipse cx="453" cy="969.5" rx="1.5" ry="2.5"/>
<ellipse cx="331" cy="998" rx="3" ry="2"/><ellipse cx="372" cy="998" rx="4.5" ry="4.5"/><ellipse cx="366" cy="1026" rx="1.5" ry="4"/>
</g>

<!-- LIGHTING : pads -->
<use href="#pad" transform="translate(1177.5,363.2) scale(0.9,0.65)"/>
<use href="#pad" transform="translate(1167,371) scale(1.35,0.9)"/>
<use href="#pad" transform="translate(1159.4,384.1) scale(0.9,0.65)"/>
<use href="#pad" transform="translate(1195.6,360.6) scale(0.75,0.4)"/>
<use href="#pad" transform="translate(1144.4,395.9) scale(0.9,0.4)"/>
<use href="#pad" transform="translate(1242.4,320.1) scale(0.75,0.5)"/>
<use href="#pad" transform="translate(1251.4,314.8) scale(0.6,0.4)"/>
<use href="#pad" transform="translate(1263.5,317.5) scale(0.75,0.47)"/>
<use href="#pad" transform="translate(1230.3,333.1) scale(0.75,0.26)"/>
<use href="#pad" transform="translate(1251.4,331.8) scale(0.6,0.4)"/>
<use href="#pad" transform="translate(1192.6,346.2) scale(0.45,0.26)"/>
<use href="#pad" transform="translate(1278.6,300.5) scale(0.6,0.4)"/>
<use href="#pad" transform="translate(1283.1,303.1) scale(0.5,0.4)"/>
<!-- LIGHTING : trees -->
<use href="#tree" x="1412.8" y="222.1"/><use href="#tree" x="1381.1" y="235.2"/><use href="#tree" x="1409.8" y="237.8"/><use href="#tree" x="1453.5" y="240.4"/>
<use href="#tree" x="1351" y="252.1"/><use href="#tree" x="1399.2" y="250.8"/><use href="#tree" x="1384.1" y="260"/><use href="#tree" x="1429.4" y="257.4"/>
<use href="#tree" x="1360" y="271.7"/><use href="#tree" x="1414.3" y="269.1"/><use href="#tree" x="1308.7" y="279.6"/><use href="#tree" x="1375.1" y="288.7"/>
<use href="#tree" x="1295.2" y="288.7"/><use href="#tree" x="1304.2" y="299.2"/><use href="#tree" x="1357" y="301.8"/><use href="#tree" x="1274.1" y="300.5"/>
<use href="#tree" x="1284.6" y="300.5"/><use href="#tree" x="1266.5" y="309.6"/><use href="#tree" x="1230.3" y="318.8"/><use href="#tree" x="1215.2" y="331.8"/>
<use href="#tree" x="1224.3" y="338.4"/><use href="#tree" x="1251.4" y="331.8"/><use href="#tree" x="1201.7" y="346.2"/><use href="#tree" x="1192.6" y="346.2"/>
<use href="#tree" x="1176" y="351.4"/><use href="#tree" x="1194.1" y="363.2"/><use href="#tree" x="1197.1" y="372.3"/><use href="#tree" x="1150.4" y="375"/>
<use href="#tree" x="1212.2" y="376.3"/><use href="#tree" x="1225.8" y="367.1"/><use href="#tree" x="1240.9" y="360.6"/><use href="#tree" x="1253" y="360.6"/>
<use href="#tree" x="1203.2" y="382.8"/><use href="#tree" x="1186.6" y="389.3"/><use href="#tree" x="1156.4" y="401.1"/><use href="#tree" x="1130.8" y="410.2"/>
<use href="#tree" x="1185.1" y="408.9"/><use href="#tree" x="1031.3" y="440.3"/><use href="#tree" x="1061.4" y="442.9"/><use href="#tree" x="1093.1" y="454.6"/>

<!-- RENEWABLE : mesh blobs -->
<polygon points="1221.3,512.2 1230.3,501.7 1239.4,493.9 1248.4,488.7 1260.5,483.5 1266.5,478.2 1269.5,470.4 1284.6,467.8 1293.7,470.4 1292.2,483.5 1284.6,496.5 1278.6,501.7 1266.5,503 1254.4,501.7 1248.4,509.6 1242.4,514.8 1230.3,514.8" fill="url(#mesh)" stroke="#222" stroke-width="0.6"/>
<polygon points="1148.9,559.2 1151.9,551.4 1161,546.2 1170,538.3 1182.1,534.4 1197.1,530.5 1206.2,525.3 1218.3,522.7 1233.3,525.3 1242.4,533.1 1239.4,538.3 1227.3,540.9 1218.3,543.6 1212.2,548.8 1206.2,561.8 1212.2,567.1 1209.2,574.9 1197.1,576.2 1188.1,569.7 1182.1,559.2 1173,554 1164,556.6 1157.9,567.1 1151.9,569.7 1147.4,565.8" fill="url(#mesh)" stroke="#222" stroke-width="0.6"/>
<use href="#pad" transform="translate(1155,560) scale(0.8,0.8)"/>
<use href="#pad" transform="translate(1165,548) scale(0.6,0.5)"/>
<use href="#pad" transform="translate(1230,508) scale(0.6,0.5)"/>
<!-- RENEWABLE : pads -->
<use href="#pad" transform="translate(1341.9,440.3) scale(0.8,0.6)"/>
<use href="#pad" transform="translate(1339,436.5) scale(0.5,0.4)"/>
<use href="#pad" transform="translate(1346.4,444.3) scale(0.5,0.4)"/>
<use href="#pad" transform="translate(1334.4,443) scale(0.5,0.4)"/>
<use href="#pad" transform="translate(1316.3,454.7) scale(0.7,0.4)"/>
<use href="#pad" transform="translate(1320.8,452.1) scale(0.4,0.3)"/>
<use href="#pad" transform="translate(1304.2,487.4) scale(0.8,0.5)"/>
<use href="#pad" transform="translate(1204.7,516.1) scale(0.7,0.45)"/>
<use href="#pad" transform="translate(1189.6,525.3) scale(0.5,0.35)"/>
<use href="#pad" transform="translate(1135.3,556.6) scale(0.9,0.5)"/>
<use href="#pad" transform="translate(1141.3,574.9) scale(1,0.7)"/>
<use href="#pad" transform="translate(1138.3,580.1) scale(0.9,0.4)"/>
<use href="#pad" transform="translate(1159.4,586.7) scale(0.4,0.3)"/>
<use href="#pad" transform="translate(1174.5,581.4) scale(0.35,0.3)"/>
<use href="#pad" transform="translate(1183.6,588) scale(0.4,0.3)"/>
<use href="#pad" transform="translate(1124.8,589.3) scale(0.5,0.35)"/>
<use href="#pad" transform="translate(1243.9,548.8) scale(0.6,0.4)"/>
<use href="#pad" transform="translate(1248.4,547.5) scale(0.4,0.3)"/>
<use href="#pad" transform="translate(1256,520) scale(0.3,0.3)"/>
<use href="#pad" transform="translate(1354,480.8) scale(0.9,0.5)"/>
<use href="#pad" transform="translate(1349,476) scale(0.4,0.3)"/>
<use href="#pad" transform="translate(1359,484) scale(0.4,0.3)"/>
<use href="#pad" transform="translate(1335.9,495.2) scale(0.4,0.4)"/>
<use href="#pad" transform="translate(1379.6,471.7) scale(0.4,0.25)"/>
<use href="#pad" transform="translate(1049.4,606.3) scale(0.8,0.6)"/>
<use href="#pad" transform="translate(1058.4,612.8) scale(0.8,0.6)"/>
<use href="#pad" transform="translate(1041.8,615.4) scale(0.7,0.5)"/>
<use href="#pad" transform="translate(1043.3,622) scale(0.6,0.5)"/>
<use href="#pad" transform="translate(1058.4,601) scale(0.7,0.5)"/>
<use href="#pad" transform="translate(1078,627.2) scale(0.6,0.5)"/>
<use href="#pad" transform="translate(1090.1,628.5) scale(0.7,0.5)"/>
<use href="#pad" transform="translate(1102.1,625.9) scale(0.7,0.6)"/>
<use href="#pad" transform="translate(1078,636.3) scale(0.5,0.6)"/>
<use href="#pad" transform="translate(1088.6,644.2) scale(0.8,0.6)"/>
<use href="#pad" transform="translate(1099.1,645.5) scale(0.7,0.5)"/>
<use href="#pad" transform="translate(1078,650.7) scale(0.6,0.5)"/>
<use href="#pad" transform="translate(1090.1,652) scale(0.6,0.4)"/>
<use href="#pad" transform="translate(1070.5,662.4) scale(0.7,0.5)"/>
<use href="#tree" x="1142.9" y="550.1"/>
</svg>
</body></html>
